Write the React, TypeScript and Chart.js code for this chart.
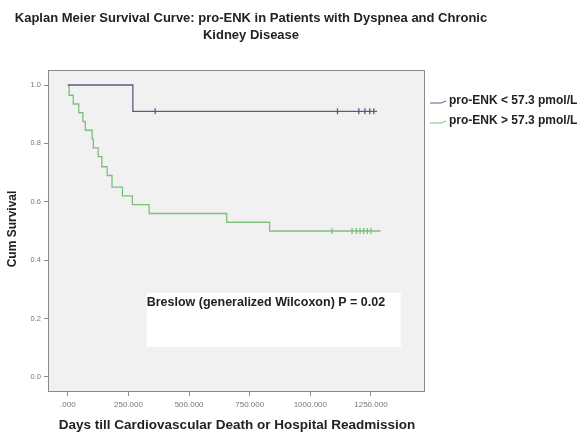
import React, { useEffect, useRef } from "react";
import { Chart, registerables } from "chart.js";

Chart.register(...registerables);

const TITLE_LINES = [
  "Kaplan Meier Survival Curve: pro-ENK in Patients with Dyspnea and Chronic",
  "Kidney Disease",
];
const X_TITLE = "Days till Cardiovascular Death or Hospital Readmission";
const Y_TITLE = "Cum Survival";
const ANNOTATION = "Breslow (generalized Wilcoxon) P = 0.02";
const LEGEND_LABELS = ["pro-ENK < 57.3 pmol/L", "pro-ENK > 57.3 pmol/L"];

const X_TICKS = [0, 250, 500, 750, 1000, 1250];
const X_TICK_LABELS = [".000", "250.000", "500.000", "750.000", "1000.000", "1250.000"];
const Y_TICKS = [0, 0.2, 0.4, 0.6, 0.8, 1.0];
const Y_TICK_LABELS = ["0.0", "0.2", "0.4", "0.6", "0.8", "1.0"];

// Low pro-ENK group (blue)
const lowTimes = [0, 268, 1275];
const lowSurv = [1.0, 0.91, 0.91];
const lowCensorTimes = [360, 1112, 1200, 1225, 1245, 1262];
const lowCensorSurv = [0.91, 0.91, 0.91, 0.91, 0.91, 0.91];

// High pro-ENK group (green)
const highTimes = [0, 5, 22, 45, 62, 72, 100, 105, 125, 140, 162, 182, 225, 266, 335, 655, 832, 1290];
const highSurv = [1.0, 0.965, 0.935, 0.905, 0.875, 0.845, 0.815, 0.785, 0.755, 0.72, 0.69, 0.65, 0.62, 0.59, 0.56, 0.53, 0.5, 0.5];
const highCensorTimes = [1090, 1172, 1190, 1205, 1220, 1235, 1250];
const highCensorSurv = [0.5, 0.5, 0.5, 0.5, 0.5, 0.5, 0.5];

const BLUE = "#5a5c82";
const GREEN = "#7cc07c";
const FONT = "Arial, 'Liberation Sans', sans-serif";

const toPts = (xs: number[], ys: number[]) => xs.map((x, i) => ({ x, y: ys[i] }));

export default function App() {
  const ref = useRef<HTMLCanvasElement | null>(null);

  useEffect(() => {
    if (!ref.current) return;

    const decor = {
      id: "decor",
      beforeDraw(chart: any) {
        const { ctx, chartArea: a } = chart;
        ctx.save();
        ctx.fillStyle = "#ffffff";
        ctx.fillRect(0, 0, chart.width, chart.height);
        ctx.fillStyle = "#f1f1f1";
        ctx.fillRect(a.left, a.top, a.right - a.left, a.bottom - a.top);
        const xs = chart.scales.x;
        const ys = chart.scales.y;
        const bx1 = xs.getPixelForValue(325);
        const bx2 = xs.getPixelForValue(1373);
        const by1 = ys.getPixelForValue(0.288);
        const by2 = ys.getPixelForValue(0.103);
        ctx.fillStyle = "#ffffff";
        ctx.fillRect(bx1, by1, bx2 - bx1, by2 - by1);
        ctx.restore();
      },
      afterDraw(chart: any) {
        const { ctx, chartArea: a } = chart;
        const xs = chart.scales.x;
        const ys = chart.scales.y;
        ctx.save();
        ctx.strokeStyle = "#8a8a8a";
        ctx.lineWidth = 1;
        ctx.strokeRect(a.left + 0.5, a.top + 0.5, a.right - a.left - 1, a.bottom - a.top - 1);

        ctx.fillStyle = "#222222";
        ctx.textAlign = "center";
        ctx.textBaseline = "middle";
        ctx.font = `bold 13px ${FONT}`;
        ctx.fillText(TITLE_LINES[0], 251, 18);
        ctx.fillText(TITLE_LINES[1], 251, 35);

        ctx.font = `bold 13.5px ${FONT}`;
        ctx.fillText(X_TITLE, 237, 425);

        ctx.save();
        ctx.translate(13, 229);
        ctx.rotate(-Math.PI / 2);
        ctx.font = `bold 12px ${FONT}`;
        ctx.fillText(Y_TITLE, 0, 0);
        ctx.restore();

        ctx.textAlign = "left";
        ctx.font = `bold 12.5px ${FONT}`;
        ctx.fillStyle = "#222222";
        ctx.fillText(ANNOTATION, xs.getPixelForValue(325), ys.getPixelForValue(0.255));

        const ly = [101, 121];
        const colors = [BLUE, GREEN];
        ctx.font = `bold 12px ${FONT}`;
        for (let i = 0; i < 2; i++) {
          ctx.strokeStyle = colors[i];
          ctx.lineWidth = 1;
          ctx.beginPath();
          ctx.moveTo(430, ly[i] + 2);
          ctx.lineTo(441, ly[i] + 2);
          ctx.lineTo(446, ly[i]);
          ctx.stroke();
          ctx.fillStyle = "#222222";
          ctx.fillText(LEGEND_LABELS[i], 449, ly[i]);
        }
        ctx.restore();
      },
    };

    const chart = new Chart(ref.current, {
      type: "scatter",
      data: {
        datasets: [
          {
            label: LEGEND_LABELS[0],
            data: toPts(lowTimes, lowSurv),
            showLine: true,
            stepped: "before",
            borderColor: BLUE,
            borderWidth: 1.3,
            pointRadius: 0,
          },
          {
            label: LEGEND_LABELS[1],
            data: toPts(highTimes, highSurv),
            showLine: true,
            stepped: "before",
            borderColor: GREEN,
            borderWidth: 1.3,
            pointRadius: 0,
          },
          {
            label: "low censored",
            data: toPts(lowCensorTimes, lowCensorSurv),
            showLine: false,
            pointStyle: "line",
            rotation: 90,
            pointRadius: 3,
            borderColor: BLUE,
            borderWidth: 1.3,
          },
          {
            label: "high censored",
            data: toPts(highCensorTimes, highCensorSurv),
            showLine: false,
            pointStyle: "line",
            rotation: 90,
            pointRadius: 3,
            borderColor: GREEN,
            borderWidth: 1.3,
          },
        ],
      },
      options: {
        responsive: false,
        animation: false,
        devicePixelRatio: 1,
        layout: { padding: { top: 70, right: 161, left: 0, bottom: 0 } },
        plugins: {
          legend: { display: false },
          title: { display: false },
          tooltip: { enabled: false },
        },
        scales: {
          x: {
            type: "linear",
            min: -82,
            max: 1473,
            afterFit: (s: any) => {
              s.height = 41;
            },
            afterBuildTicks: (s: any) => {
              s.ticks = X_TICKS.map((v) => ({ value: v }));
            },
            ticks: {
              autoSkip: false,
              maxRotation: 0,
              color: "#777777",
              font: { size: 8, family: FONT },
              padding: 4,
              callback: (v: any) => {
                const i = X_TICKS.indexOf(Number(v));
                return i >= 0 ? X_TICK_LABELS[i] : "";
              },
            },
            grid: { drawOnChartArea: false, drawTicks: true, tickLength: 4, color: "#8a8a8a" },
            border: { display: false },
          },
          y: {
            type: "linear",
            min: -0.0514,
            max: 1.0514,
            afterFit: (s: any) => {
              s.width = 48;
            },
            afterBuildTicks: (s: any) => {
              s.ticks = Y_TICKS.map((v) => ({ value: v }));
            },
            ticks: {
              autoSkip: false,
              color: "#777777",
              font: { size: 7.5, family: FONT },
              padding: 3,
              callback: (v: any) => {
                const i = Y_TICKS.findIndex((t) => Math.abs(t - Number(v)) < 1e-6);
                return i >= 0 ? Y_TICK_LABELS[i] : "";
              },
            },
            grid: { drawOnChartArea: false, drawTicks: true, tickLength: 4, color: "#8a8a8a" },
            border: { display: false },
          },
        },
      },
      plugins: [decor],
    } as any);

    return () => chart.destroy();
  }, []);

  return (
    <div style={{ position: "fixed", left: 0, top: 0, width: 586, height: 433, background: "#fff" }}>
      <canvas ref={ref} width={586} height={433} style={{ display: "block" }} />
    </div>
  );
}
